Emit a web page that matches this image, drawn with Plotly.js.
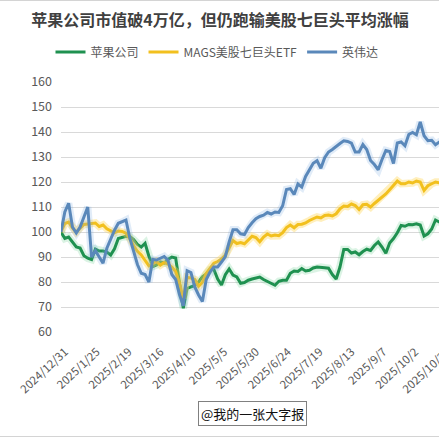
<!DOCTYPE html>
<html>
<head>
<meta charset="utf-8">
<script src="https://cdn.plot.ly/plotly-3.0.1.min.js"></script>
<style>
html,body{margin:0;padding:0;overflow:hidden;background:#fff;}
#wrap{position:relative;width:439px;height:438px;overflow:hidden;background:#fff;}
#chart{position:absolute;left:0;top:0;width:470px;height:438px;}
.rule{position:absolute;left:0;width:439px;height:1px;background:#d4d4d4;}
</style>
</head>
<body>
<div id="wrap">
  <div id="chart"></div>
  <div class="rule" style="top:0px;"></div>
  <div class="rule" style="top:436px;"></div>
</div>
<script>
// ---- data (index, 2024/12/31 = 100) ----
const dates = [
 '2024-12-31','2025-01-03','2025-01-06','2025-01-09','2025-01-12','2025-01-15','2025-01-18','2025-01-21','2025-01-24','2025-01-27',
 '2025-01-30','2025-02-02','2025-02-05','2025-02-08','2025-02-11','2025-02-14','2025-02-17','2025-02-20','2025-02-23','2025-02-26',
 '2025-03-01','2025-03-04','2025-03-07','2025-03-10','2025-03-13','2025-03-16','2025-03-19','2025-03-22','2025-03-25','2025-03-28',
 '2025-03-31','2025-04-03','2025-04-06','2025-04-09','2025-04-12','2025-04-15','2025-04-18','2025-04-21','2025-04-24','2025-04-27',
 '2025-04-30','2025-05-03','2025-05-06','2025-05-09','2025-05-12','2025-05-15','2025-05-18','2025-05-21','2025-05-24','2025-05-27',
 '2025-05-30','2025-06-02','2025-06-05','2025-06-08','2025-06-11','2025-06-14','2025-06-17','2025-06-20','2025-06-23','2025-06-26',
 '2025-06-29','2025-07-02','2025-07-05','2025-07-08','2025-07-11','2025-07-14','2025-07-17','2025-07-20','2025-07-23','2025-07-26',
 '2025-07-29','2025-08-01','2025-08-04','2025-08-07','2025-08-10','2025-08-13','2025-08-16','2025-08-19','2025-08-22','2025-08-25',
 '2025-08-28','2025-08-31','2025-09-03','2025-09-06','2025-09-09','2025-09-12','2025-09-15','2025-09-18','2025-09-21','2025-09-24',
 '2025-09-27','2025-09-30','2025-10-03','2025-10-06','2025-10-09','2025-10-12','2025-10-15','2025-10-18','2025-10-21','2025-10-24',
 '2025-10-27'
];
const apple = [
 100,97.4,98,96,94,93.6,90.5,89.5,89,93.2,
 92.4,92.4,92,90.8,93.3,97.4,98,98.3,98.2,97,
 95,94,95.5,90.3,86.2,86.8,88,87.6,89,90,
 89.6,80,69.5,77.5,78,78.6,80,82.1,83.2,85,
 85,81.2,78.8,82.9,85.2,82.8,82,79.5,79.8,80.7,
 81.2,81.6,82,81,80.2,79.2,78.7,80.3,80.7,80.7,
 83.5,84.4,84.2,85.4,84.4,84.7,85.6,86,86,85.7,
 85.5,83,81.2,86,93,93,91.6,92,90.9,92.2,
 93.1,92.6,94.6,96,94,91.5,95.6,97.4,99.7,102.6,
 102.3,103,102.9,103.3,102.8,98.4,99.3,101.2,104.8,104,
 105
];
const mags = [
 100,103.4,104,101.6,100,101.6,103,103.2,103.5,103.6,
 102.2,102.8,101.3,100.4,99.7,100.4,100.2,99.5,97.4,94.5,
 92.3,90.8,88.8,86.5,87.3,88.2,86.8,87.8,87.2,86,
 84.2,79.5,73.5,81.8,81.6,81,78.3,79.8,83.4,85.4,
 87.5,88.2,89.2,90.8,93.5,96.6,95.4,95.8,95.3,97,
 98.3,97.8,96.1,98,99.2,98.4,98.8,98.5,99.7,101.8,
 102.8,101.7,103,103.1,103.6,104.6,105.4,106,105.6,106.6,
 106.8,106.4,107.3,109.3,110.4,110.2,111.2,110.6,109,110.9,
 111.1,110,111.4,112.7,114,115.2,116.9,118.7,120.4,119.3,
 119.3,120,119.6,120.4,120,116.6,118.5,119.3,120,119.7,
 120
];
const nvda = [
 100,108,111.5,102,99.6,102,106,110,90,92.5,
 90,87.5,93.5,97.5,100.7,103.5,104,104.8,97.6,92.3,
 87,83.5,83,80,89,88.8,89.5,90.2,88.7,83,
 81,75,70.5,84.5,83.8,78,74.8,72.2,81,84,
 86,86,88,90.2,96,100.9,100.9,99.3,99,101.8,
 103.7,105.3,106.2,106.7,107.8,107.2,108,107.8,110.5,117,
 117.3,115,119.2,118,122.2,124.8,127.5,128.5,125.5,129.7,
 132,133,134.4,135.4,136.5,136.2,135.5,132,132,135,
 133,128.6,127,124.9,129,132.6,132.2,127.4,135.6,136,
 134.5,139,139.8,138.9,144,138.5,136.5,136.7,134.9,136,
 135.5
];
const seriesNames = ['苹果公司','MAGS美股七巨头ETF','英伟达'];
const tickDates = ['2024-12-31','2025-01-25','2025-02-19','2025-03-16','2025-04-10','2025-05-05','2025-05-30',
                   '2025-06-24','2025-07-19','2025-08-13','2025-09-07','2025-10-02','2025-10-27'];
const tickLabels = ['2024/12/31','2025/1/25','2025/2/19','2025/3/16','2025/4/10','2025/5/5','2025/5/30',
                    '2025/6/24','2025/7/19','2025/8/13','2025/9/7','2025/10/2','2025/10/27'];
const yTicks = [60,70,80,90,100,110,120,130,140,150,160];

const colors = ['#1f9150','#f2c01e','#5a88ba'];
const glows  = ['rgba(90,200,130,0.22)','rgba(255,215,90,0.40)','rgba(120,170,225,0.22)'];
const vals = [apple, mags, nvda];

const traces = [];
for (let i = 0; i < 3; i++) {
  traces.push({x: dates, y: vals[i], type: 'scatter', mode: 'lines', showlegend: false, hoverinfo: 'skip',
               line: {color: glows[i], width: 7.5, shape: 'linear'}});
  traces.push({x: dates, y: vals[i], type: 'scatter', mode: 'lines', name: seriesNames[i],
               line: {color: colors[i], width: 3, shape: 'linear'}});
}

const fontCJK = '"Noto Sans CJK SC", "Noto Sans", sans-serif';
const layout = {
  width: 470, height: 438,
  margin: {l: 61, r: 9, t: 82, b: 106.3, pad: 0},
  paper_bgcolor: '#ffffff', plot_bgcolor: '#ffffff',
  font: {family: fontCJK, color: '#595959', size: 12},
  title: {text: '苹果公司市值破4万亿，但仍跑输美股七巨头平均涨幅', xref: 'container', x: 0.468, xanchor: 'center',
          yref: 'container', y: 1 - 20/438, yanchor: 'middle',
          font: {family: fontCJK, size: 16, color: '#404040', weight: 'bold'}},
  showlegend: true,
  legend: {orientation: 'h', x: 0.39, xanchor: 'center', y: 1.12, yanchor: 'middle',
           font: {family: fontCJK, size: 12, color: '#595959'}, bgcolor: 'rgba(0,0,0,0)', traceorder: 'normal'},
  xaxis: {type: 'date', range: ['2024-12-31', '2025-11-10'], tickmode: 'array', tickvals: tickDates, ticktext: tickLabels,
          tickangle: -43, showgrid: false, zeroline: false, showline: false, ticks: '',
          ticklabelstandoff: 10, ticklabelshift: 4,
          tickfont: {family: fontCJK, size: 11.5, color: '#595959'}, fixedrange: true},
  yaxis: {range: [60, 160], tickmode: 'array', tickvals: yTicks, showgrid: true, gridcolor: '#d9d9d9', gridwidth: 1,
          zeroline: false, showline: false, ticks: '', ticklabelstandoff: 8,
          tickfont: {family: fontCJK, size: 12.5, color: '#595959'}, fixedrange: true},
  annotations: [{text: '@我的一张大字报', xref: 'paper', yref: 'paper', x: 0.4775, y: -0.3256,
                 xanchor: 'center', yanchor: 'middle', showarrow: false,
                 font: {family: fontCJK, size: 13, color: '#111111'},
                 bordercolor: '#808080', borderwidth: 1, borderpad: 2, bgcolor: '#ffffff'}]
};
Plotly.newPlot('chart', traces, layout, {staticPlot: true, displayModeBar: false});
</script>
</body>
</html>
